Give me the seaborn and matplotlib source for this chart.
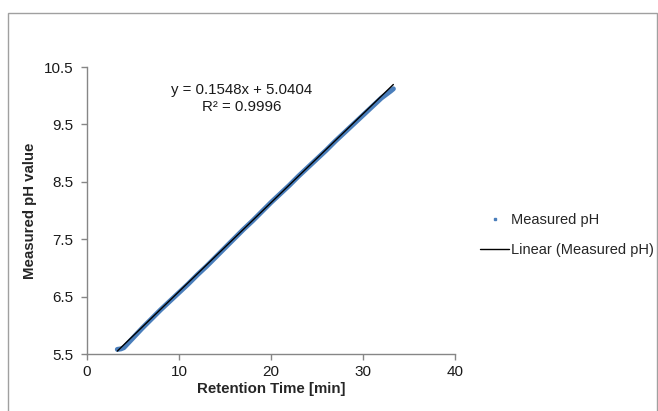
import matplotlib
matplotlib.use("Agg")
import matplotlib.pyplot as plt
from matplotlib.lines import Line2D
from matplotlib.patches import Rectangle
import seaborn as sns
import pandas as pd
import numpy as np

# ---- data ----
time_min = [3.3, 3.7, 4, 5, 6, 7, 8, 9, 10, 11, 12, 13, 14, 15, 16, 17, 18, 19,
            20, 21, 22, 23, 24, 25, 26, 27, 28, 29, 30, 31, 32, 33, 33.3]
measured_ph = [5.58, 5.59, 5.61, 5.78, 5.95, 6.11, 6.27, 6.42, 6.57, 6.72, 6.88, 7.03,
               7.19, 7.35, 7.51, 7.67, 7.82, 7.98, 8.14, 8.29, 8.44, 8.60, 8.75, 8.90,
               9.05, 9.21, 9.36, 9.51, 9.66, 9.81, 9.96, 10.08, 10.12]
slope = 0.1548
intercept = 5.0404
r_squared = 0.9996
x_ticks = [0, 10, 20, 30, 40]
y_ticks = [5.5, 6.5, 7.5, 8.5, 9.5, 10.5]

sns.set_style("white")
plt.rcParams['font.family'] = ['Liberation Sans', 'DejaVu Sans']

df = pd.DataFrame({"t": time_min, "ph": measured_ph})
fit_x = np.array([min(time_min), max(time_min)])
fit_df = pd.DataFrame({"t": fit_x, "ph": slope * fit_x + intercept})

fig = plt.figure(figsize=(6.58, 4.11), dpi=100)
ax = fig.add_axes([87/658, 1-354/411, (455-87)/658, (354-67)/411])

blue = "#4a7ebb"
sns.lineplot(data=df, x="t", y="ph", ax=ax, color=blue, linewidth=3.6,
             solid_capstyle="round", legend=False)
sns.lineplot(data=fit_df, x="t", y="ph", ax=ax, color="black", linewidth=1.0,
             legend=False)

ax.set_xlim(0, 40)
ax.set_ylim(5.5, 10.5)
ax.set_xticks(x_ticks)
ax.set_yticks(y_ticks)
ax.set_xticklabels([str(v) for v in x_ticks])
ax.set_yticklabels([f"{v:.1f}" for v in y_ticks])

for s in ["top", "right"]:
    ax.spines[s].set_visible(False)
for s in ["left", "bottom"]:
    ax.spines[s].set_color("#868686")
    ax.spines[s].set_linewidth(1.0)
ax.tick_params(axis="y", which="major", direction="out", length=4, width=1,
               color="#868686", labelsize=11, labelcolor="#1a1a1a", pad=6,
               left=True)
ax.tick_params(axis="x", which="major", direction="out", length=4, width=1,
               color="#868686", labelsize=11, labelcolor="#1a1a1a", pad=4,
               bottom=True)

ax.set_xlabel("Retention Time [min]", fontsize=10.8, fontweight="bold", labelpad=2)
ax.set_ylabel("Measured pH value", fontsize=10.8, fontweight="bold", labelpad=5)

ax.text(16.8, 10.1, f"y = {slope}x + {intercept}", ha="center", va="center",
        fontsize=10.8, color="#1a1a1a")
ax.text(16.8, 9.8, f"R² = {r_squared}", ha="center", va="center",
        fontsize=10.8, color="#1a1a1a")

handles = [
    Line2D([], [], color=blue, marker="s", markersize=2, linestyle="none"),
    Line2D([], [], color="black", linewidth=1.0),
]
fig.legend(handles, ["Measured pH", "Linear (Measured pH)"],
           loc="center left", bbox_to_anchor=(467/658, 1-235/411),
           frameon=False, fontsize=10.5, handlelength=2.0, handletextpad=0.1,
           labelspacing=1.15)

fig.add_artist(Rectangle((8/658, -0.1), (657-8)/658, 1.1-13/411,
                         transform=fig.transFigure, fill=False,
                         edgecolor="#a0a0a0", linewidth=1.0))

fig.savefig("out.png", dpi=100)
